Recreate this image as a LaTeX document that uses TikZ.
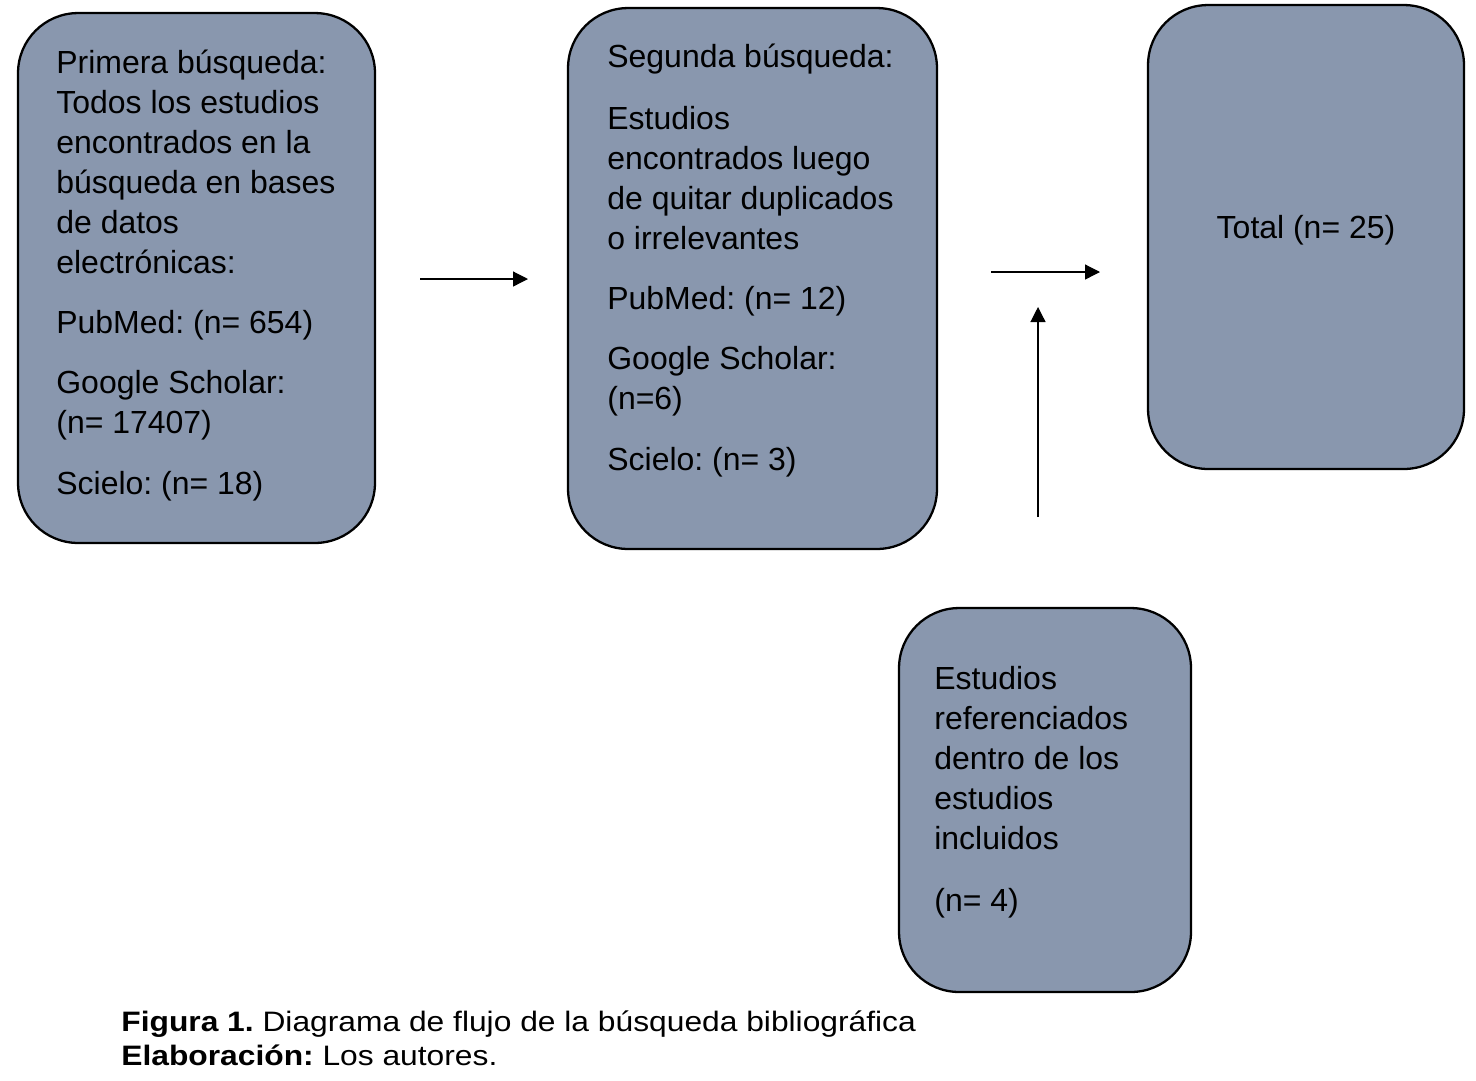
\documentclass[tikz,border=0pt]{standalone}
\usepackage{fontspec}
\setmainfont{Liberation Sans}
\newfontfamily\piefont[FakeStretch=1.13]{Liberation Sans}
\usepackage{xcolor}
\usetikzlibrary{arrows.meta}
\definecolor{cajagris}{RGB}{137,151,174}
\frenchspacing

\begin{document}
\begin{tikzpicture}[x=0.02cm, y=-0.02cm,
    caja/.style={draw=black, line width=1.3pt, fill=cajagris, rounded corners=1.2cm, inner sep=0pt},
    texto/.style={anchor=base west, align=left, inner sep=0pt, font=\fontsize{18.2}{22.8}\selectfont},
    flecha/.style={line width=0.7pt, -{Triangle[length=0.3cm, width=0.3cm]}}]
	\useasboundingbox (0,0) rectangle (1476,1080);
	\fill[white] (0,0) rectangle (1476,1080);
	% cajas
	\node[caja, minimum width=7.14cm, minimum height=10.6cm] (primera) at (196.5,278) {};
	\node[caja, minimum width=7.38cm, minimum height=10.82cm] (segunda) at (752.5,278.5) {};
	\node[caja, minimum width=6.32cm, minimum height=9.28cm] (total) at (1306,237) {};
	\node[caja, minimum width=5.84cm, minimum height=7.68cm] (referencias) at (1045,800) {};
	% textos (anclados en la ultima linea)
	\node[texto] (tprimera) at (56,494) {Primera búsqueda:\\Todos los estudios\\encontrados en la\\búsqueda en bases\\de datos\\electrónicas:\\[0.4cm]PubMed: (n= 654)\\[0.4cm]Google Scholar:\\(n= 17407)\\[0.4cm]Scielo: (n= 18)};
	\node[texto] (tsegunda) at (607,470) {Segunda búsqueda:\\[0.44cm]Estudios\\encontrados luego\\de quitar duplicados\\o irrelevantes\\[0.4cm]PubMed: (n= 12)\\[0.4cm]Google Scholar:\\(n=6)\\[0.4cm]Scielo: (n= 3)};
	\node[texto, anchor=base] (ttotal) at (1306,238) {Total (n= 25)};
	\node[texto] (treferencias) at (934,911) {Estudios\\referenciados\\dentro de los\\estudios\\incluidos\\[0.42cm](n= 4)};
	% flechas
	\coordinate (f1ini) at (420,279);
	\coordinate (f1fin) at (528,279);
	\coordinate (f2ini) at (991,272);
	\coordinate (f2fin) at (1100,272);
	\coordinate (f3ini) at (1038,517);
	\coordinate (f3fin) at (1038,307);
	\draw[flecha] (f1ini) -- (f1fin);
	\draw[flecha] (f2ini) -- (f2fin);
	\draw[flecha] (f3ini) -- (f3fin);
	% pie
	\node[anchor=base west, align=left, inner sep=0pt, font=\piefont\fontsize{16}{19.35}\selectfont] (pie) at (121,1065) {\textbf{Figura 1.} Diagrama de flujo de la búsqueda bibliográfica\\\textbf{Elaboración:} Los autores.};
\end{tikzpicture}
\end{document}
